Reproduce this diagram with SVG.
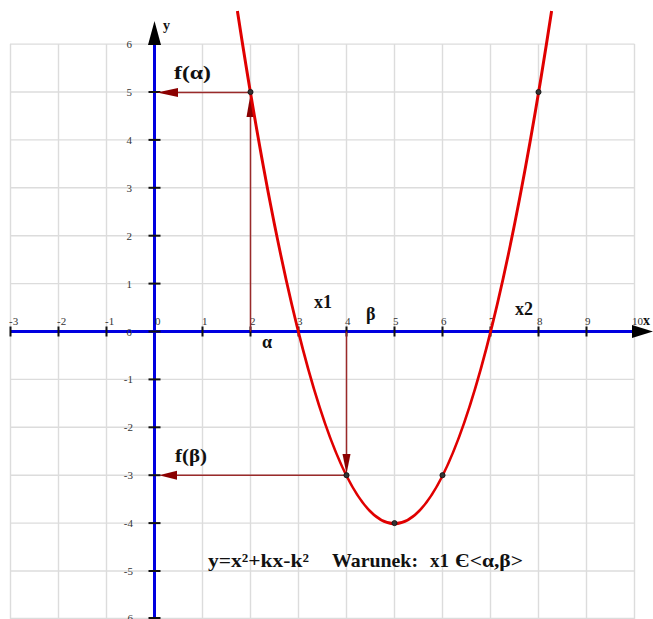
<svg xmlns="http://www.w3.org/2000/svg" width="653" height="619" viewBox="0 0 653 619">
<style>
.grid line{stroke:#dcdcdc;stroke-width:1.4}
.tick{stroke:#111;stroke-width:2}
.num{font-family:"Liberation Serif",serif;font-size:11px;fill:#333}
.lbl{font-family:"Liberation Serif",serif;font-weight:bold;font-size:18px;fill:#111}
.aux{stroke:#9a2a2a;stroke-width:1.5;fill:none}
.head{fill:#8b0000}
.dot{fill:#333;stroke:#111;stroke-width:0.8}
</style>
<rect width="653" height="619" fill="#fff"/>
<g class="grid" id="grid">
<line x1="10.5" y1="44" x2="10.5" y2="619"/><line x1="58.5" y1="44" x2="58.5" y2="619"/><line x1="106.5" y1="44" x2="106.5" y2="619"/><line x1="202.5" y1="44" x2="202.5" y2="619"/><line x1="250.5" y1="44" x2="250.5" y2="619"/><line x1="298.5" y1="44" x2="298.5" y2="619"/><line x1="346.5" y1="44" x2="346.5" y2="619"/><line x1="394.5" y1="44" x2="394.5" y2="619"/><line x1="442.5" y1="44" x2="442.5" y2="619"/><line x1="490.5" y1="44" x2="490.5" y2="619"/><line x1="538.5" y1="44" x2="538.5" y2="619"/><line x1="586.5" y1="44" x2="586.5" y2="619"/><line x1="634.5" y1="44" x2="634.5" y2="619"/>
<line x1="10" y1="44.1" x2="634.5" y2="44.1"/><line x1="10" y1="92" x2="634.5" y2="92"/><line x1="10" y1="139.9" x2="634.5" y2="139.9"/><line x1="10" y1="187.8" x2="634.5" y2="187.8"/><line x1="10" y1="235.7" x2="634.5" y2="235.7"/><line x1="10" y1="283.6" x2="634.5" y2="283.6"/><line x1="10" y1="379.4" x2="634.5" y2="379.4"/><line x1="10" y1="427.3" x2="634.5" y2="427.3"/><line x1="10" y1="475.2" x2="634.5" y2="475.2"/><line x1="10" y1="523.1" x2="634.5" y2="523.1"/><line x1="10" y1="571" x2="634.5" y2="571"/><line x1="10" y1="618.5" x2="634.5" y2="618.5"/>
</g>
<g id="axes">
<line x1="10" y1="331.5" x2="634" y2="331.5" stroke="#0000e0" stroke-width="3"/>
<polygon points="653,331.5 632,325 632,338" fill="#000"/>
<line x1="154.5" y1="619" x2="154.5" y2="44" stroke="#0000e0" stroke-width="3"/>
<polygon points="154.5,21 148,45 161,45" fill="#000"/>
<g class="tick">
<line x1="10.5" y1="326.5" x2="10.5" y2="336.5"/><line x1="58.5" y1="326.5" x2="58.5" y2="336.5"/><line x1="106.5" y1="326.5" x2="106.5" y2="336.5"/><line x1="202.5" y1="326.5" x2="202.5" y2="336.5"/><line x1="250.5" y1="326.5" x2="250.5" y2="336.5"/><line x1="298.5" y1="326.5" x2="298.5" y2="336.5"/><line x1="346.5" y1="326.5" x2="346.5" y2="336.5"/><line x1="394.5" y1="326.5" x2="394.5" y2="336.5"/><line x1="442.5" y1="326.5" x2="442.5" y2="336.5"/><line x1="490.5" y1="326.5" x2="490.5" y2="336.5"/><line x1="538.5" y1="326.5" x2="538.5" y2="336.5"/><line x1="586.5" y1="326.5" x2="586.5" y2="336.5"/>
<line x1="148.5" y1="92" x2="160.5" y2="92"/><line x1="148.5" y1="139.9" x2="160.5" y2="139.9"/><line x1="148.5" y1="187.8" x2="160.5" y2="187.8"/><line x1="148.5" y1="235.7" x2="160.5" y2="235.7"/><line x1="148.5" y1="283.6" x2="160.5" y2="283.6"/><line x1="148.5" y1="331.5" x2="160.5" y2="331.5"/><line x1="148.5" y1="379.4" x2="160.5" y2="379.4"/><line x1="148.5" y1="427.3" x2="160.5" y2="427.3"/><line x1="148.5" y1="475.2" x2="160.5" y2="475.2"/><line x1="148.5" y1="523.1" x2="160.5" y2="523.1"/><line x1="148.5" y1="571" x2="160.5" y2="571"/><line x1="148.5" y1="618" x2="160.5" y2="618"/>
</g>
<g class="num">
<text x="9" y="325">-3</text><text x="57" y="325">-2</text><text x="105" y="325">-1</text><text x="155" y="325">0</text><text x="202" y="325">1</text><text x="250" y="325">2</text><text x="297" y="325">3</text><text x="345" y="325">4</text><text x="393" y="325">5</text><text x="441" y="325">6</text><text x="489" y="325">7</text><text x="537" y="325">8</text><text x="585" y="325">9</text><text x="632" y="325">10</text>
</g>
<g class="num" text-anchor="end">
<text x="132" y="48">6</text><text x="132" y="96">5</text><text x="132" y="144">4</text><text x="132" y="192">3</text><text x="132" y="240">2</text><text x="132" y="288">1</text><text x="132" y="335.5">0</text><text x="133" y="383">-1</text><text x="133" y="431">-2</text><text x="133" y="479">-3</text><text x="133" y="527">-4</text><text x="133" y="575">-5</text><text x="133" y="622">-6</text>
</g>
<text x="163" y="30" font-family="Liberation Serif,serif" font-weight="bold" font-size="14" fill="#111">y</text>
<text x="643" y="325" font-family="Liberation Serif,serif" font-weight="bold" font-size="14" fill="#111">x</text>
</g>
<g id="connectors">
<line class="aux" x1="250.5" y1="331.5" x2="250.5" y2="112"/>
<polygon class="head" points="250.5,94 246.5,117 254.5,117"/>
<line class="aux" x1="250.5" y1="92.5" x2="175" y2="92.5"/>
<polygon class="head" points="157,92.5 178,88 178,97"/>
<line class="aux" x1="346.5" y1="331.5" x2="346.5" y2="460"/>
<polygon class="head" points="346.5,474 342.5,454 350.5,454"/>
<line class="aux" x1="346.5" y1="475.2" x2="175" y2="475.2"/>
<polygon class="head" points="159,475.2 177,470.7 177,479.7"/>
</g>
<g id="parabola">
<path d="M237.4,11 Q394.5,1036.3 551.6,11" fill="none" stroke="#e00000" stroke-width="3"/>
</g>
<g id="points">
<circle class="dot" cx="250.5" cy="92" r="2.6"/>
<circle class="dot" cx="538.5" cy="92" r="2.6"/>
<circle class="dot" cx="346.5" cy="475.2" r="2.6"/>
<circle class="dot" cx="442.5" cy="475.2" r="2.6"/>
<circle class="dot" cx="394.5" cy="523.1" r="2.6"/>
</g>
<g id="labels" class="lbl">
<text x="174" y="79" font-size="19" textLength="37" lengthAdjust="spacingAndGlyphs">f(α)</text>
<text x="175" y="462" font-size="19" textLength="32" lengthAdjust="spacingAndGlyphs">f(β)</text>
<text x="262" y="348">α</text>
<text x="314" y="308">x1</text>
<text x="366" y="320">β</text>
<text x="515" y="315">x2</text>
<text y="567" font-size="19"><tspan x="208" textLength="101" lengthAdjust="spacingAndGlyphs">y=x²+kx-k²</tspan><tspan x="332" textLength="86" lengthAdjust="spacingAndGlyphs">Warunek:</tspan><tspan x="430">x1</tspan><tspan x="455" textLength="68" lengthAdjust="spacingAndGlyphs">Є&lt;α,β&gt;</tspan></text>
</g>
</svg>
